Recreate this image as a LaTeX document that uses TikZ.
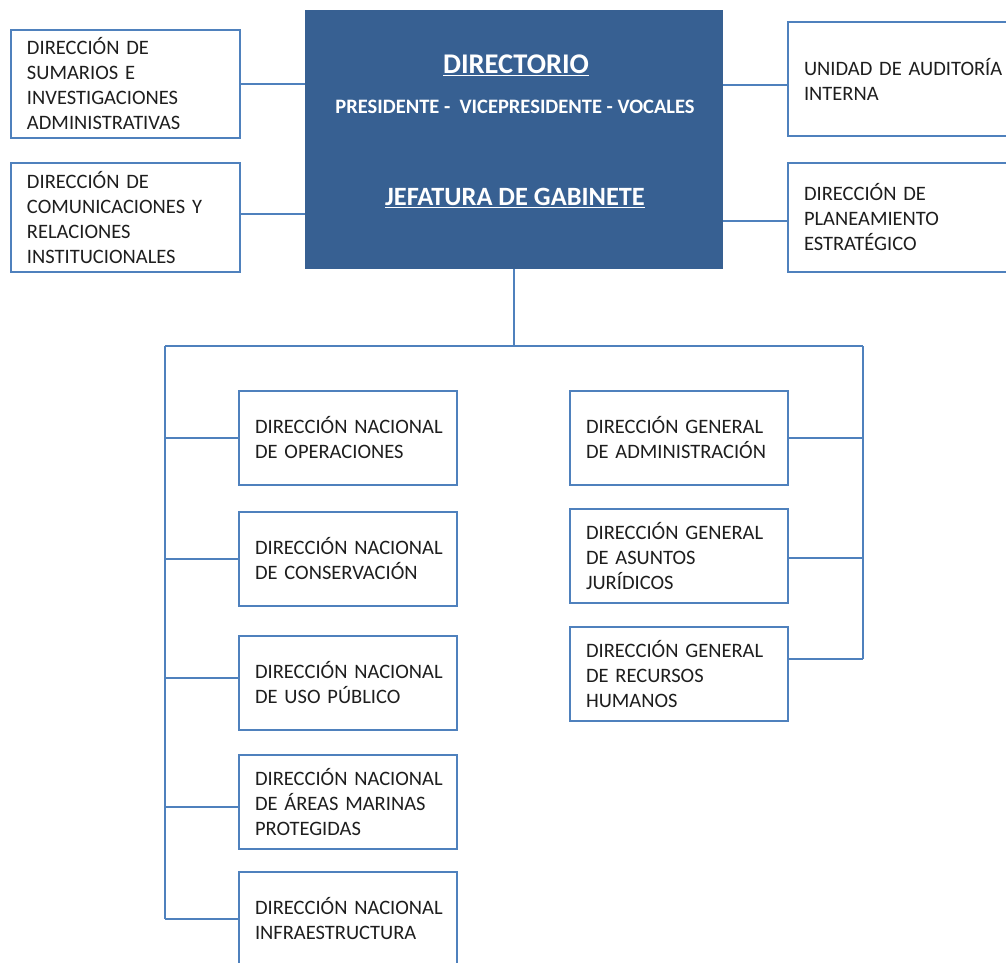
\documentclass[tikz,border=0pt]{standalone}
\usepackage{fontspec}
\setmainfont{Carlito}
\definecolor{dblue}{HTML}{376092}
\definecolor{lblue}{HTML}{4F81BD}
\definecolor{txt}{HTML}{1E1E1E}
\newcommand\lnx[1]{\mbox{#1}}
\begin{document}
\begin{tikzpicture}[x=1pt,y=-1pt,
  box/.style={draw=lblue, line width=2pt, fill=white, rectangle,
    inner xsep=16pt, inner ysep=0pt, align=left, text=txt,
    font=\fontsize{20.5}{25}\selectfont},
  wbox/.style={box, minimum width=229pt, text width=197pt},
  nbox/.style={box, minimum width=218pt, text width=186pt, minimum height=94pt},
  conn/.style={draw=lblue, line width=2pt},
  title/.style={text=white, font=\bfseries\fontsize{28.5}{30}\selectfont, inner sep=0pt, anchor=base},
  sub/.style={text=white, font=\bfseries\fontsize{20.5}{22}\selectfont, inner sep=0pt, anchor=base}
]
\useasboundingbox (0,0) rectangle (1006,963);
\fill[white] (0,0) rectangle (1006,963);

% central box
\node[fill=dblue, minimum width=418pt, minimum height=259pt, inner sep=0pt] (dir) at (514,139.5) {};
\node[title] (t1) at (516,74) {\underline{DIRECTORIO}};
\node[sub] (t2) at (515,113.5) {PRESIDENTE -\ \ VICEPRESIDENTE - VOCALES};
\node[title, font=\bfseries\fontsize{26.4}{30}\selectfont] (t3) at (515,205.5) {\underline{JEFATURA DE GABINETE}};

% top side boxes
\node[wbox, minimum height=108pt] (l1) at (125.5,84) {\lnx{DIRECCIÓN DE}\\\lnx{SUMARIOS E}\\\lnx{INVESTIGACIONES}\\\lnx{ADMINISTRATIVAS}};
\node[wbox, minimum height=109pt] (l2) at (125.5,217.5) {\lnx{DIRECCIÓN DE}\\\lnx{COMUNICACIONES Y}\\\lnx{RELACIONES}\\\lnx{INSTITUCIONALES}};
\node[wbox, minimum height=114pt] (r1) at (902.5,79) {\lnx{UNIDAD DE AUDITORÍA}\\\lnx{INTERNA}};
\node[wbox, minimum height=109pt] (r2) at (902.5,217.5) {\lnx{DIRECCIÓN DE}\\\lnx{PLANEAMIENTO}\\\lnx{ESTRATÉGICO}};

% left column
\node[nbox] (op) at (348,437.5) {\lnx{DIRECCIÓN NACIONAL}\\\lnx{DE OPERACIONES}};
\node[nbox] (co) at (348,558.5) {\lnx{DIRECCIÓN NACIONAL}\\\lnx{DE CONSERVACIÓN}};
\node[nbox] (up) at (348,682.5) {\lnx{DIRECCIÓN NACIONAL}\\\lnx{DE USO PÚBLICO}};
\node[nbox] (am) at (348,802) {\lnx{DIRECCIÓN NACIONAL}\\\lnx{DE ÁREAS MARINAS}\\\lnx{PROTEGIDAS}};
\node[nbox] (in) at (348,919) {\lnx{DIRECCIÓN NACIONAL}\\\lnx{INFRAESTRUCTURA}};

% right column
\node[nbox] (ad) at (679,437.5) {\lnx{DIRECCIÓN GENERAL}\\\lnx{DE ADMINISTRACIÓN}};
\node[nbox] (ju) at (679,556) {\lnx{DIRECCIÓN GENERAL}\\\lnx{DE ASUNTOS}\\\lnx{JURÍDICOS}};
\node[nbox] (rh) at (679,674) {\lnx{DIRECCIÓN GENERAL}\\\lnx{DE RECURSOS}\\\lnx{HUMANOS}};

% connectors top
\draw[conn] (l1.east) -- (l1.east -| dir.west);
\draw[conn] ([yshift=4pt]l2.east) -- ([yshift=4pt]l2.east -| dir.west);
\coordinate (r1c) at ([yshift=-6pt]r1.west);
\coordinate (r2c) at ([yshift=-3.5pt]r2.west);
\draw[conn] (r1c -| dir.east) -- (r1c);
\draw[conn] (r2c -| dir.east) -- (r2c);

% buses
\coordinate (busL) at (165,346);
\coordinate (busR) at (863,346);
\coordinate (busM) at (514,346);
\draw[conn] (dir.south) -- (busM);
\draw[conn] (busL) -- (busR);
\draw[conn] (busL) -- (busL |- in.west);
\coordinate (rhc) at ([yshift=15pt]rh.east);
\draw[conn] (busR) -- (busR |- rhc);

% branches
\draw[conn] (op.west -| busL) -- (op.west);
\draw[conn] (co.west -| busL) -- (co.west);
\coordinate (upc) at ([yshift=4.5pt]up.west);
\draw[conn] (upc -| busL) -- (upc);
\coordinate (amc) at ([yshift=-5pt]am.west);
\draw[conn] (amc -| busL) -- (amc);
\draw[conn] (in.west -| busL) -- (in.west);
\draw[conn] (ad.east) -- (ad.east -| busR);
\coordinate (juc) at ([yshift=-2pt]ju.east);
\draw[conn] (juc) -- (juc -| busR);
\draw[conn] (rhc) -- (rhc -| busR);
\end{tikzpicture}
\end{document}
